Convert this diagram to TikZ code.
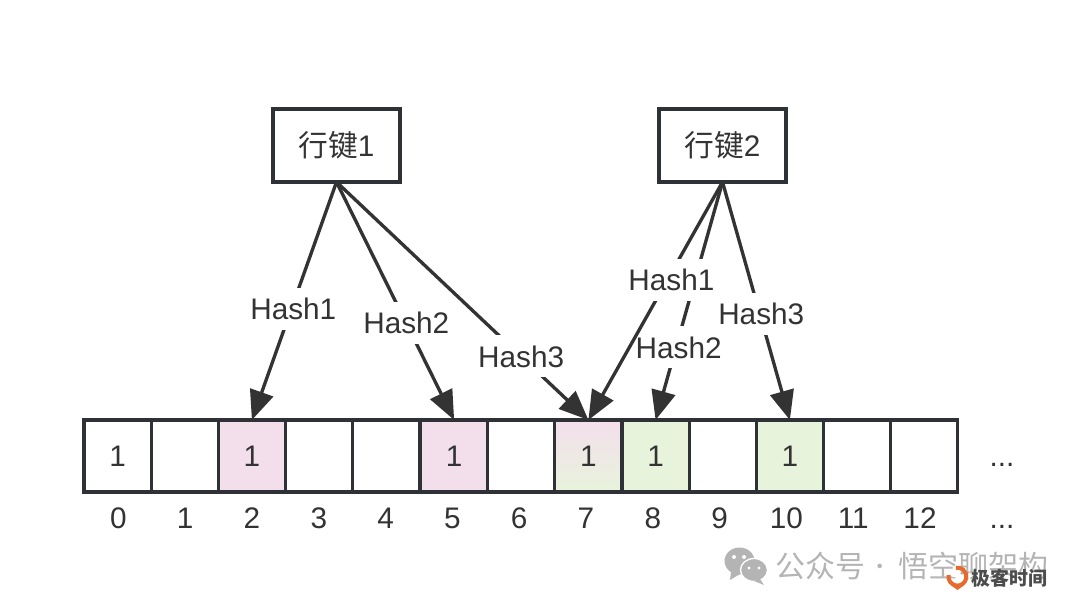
\documentclass[tikz,border=0pt]{standalone}
\usepackage{fontspec}
\setmainfont{Liberation Sans}
\newfontfamily\cjk{Noto Sans CJK SC}
\usetikzlibrary{
  positioning,
  arrows.meta
}
\definecolor{inkDark}{HTML}{333333}
\definecolor{edgeDark}{HTML}{2E3236}
\definecolor{pinkFill}{HTML}{F3DFEC}
\definecolor{greenFill}{HTML}{E8F3DC}
\definecolor{markGray}{HTML}{B4B4B4}
\definecolor{logoOrange}{HTML}{E8692C}

\begin{document}
\begin{tikzpicture}[
    x=0.75pt,y=-0.75pt,
    font=\fontsize{22.3pt}{26pt}\selectfont,>={Triangle[length=22pt,width=18pt]},
    text=inkDark,
    cell/.style={
      draw=edgeDark,
      line width=2.4pt,
      outer sep=0pt,
      minimum width=50.36pt,
      minimum height=54pt
    },
    rowkey/.style={
      draw=edgeDark,
      line width=2.4pt,
      outer sep=0pt,
      minimum width=95.25pt,
      minimum height=54.75pt
    },
    idx/.style={
      anchor=base,
      inner sep=0pt
    },
    hash/.style={
      fill=white,
      inner xsep=0pt,
      inner ysep=0pt,
      minimum height=31.5pt
    },
    link/.style={
      draw=inkDark,
      line width=2.5pt,
      ->
    },
    wmark/.style={
      text=markGray,
      font=\fontsize{22.5pt}{26pt}\selectfont\cjk,
      inner sep=0pt
    }
  ]
  \useasboundingbox (0,0) rectangle (1080,609);

  % Row keys
  \node[rowkey] (key1) at (336.5,145.5) {{\cjk 行键}1};
  \node[rowkey, right=194.25pt of key1] (key2) {{\cjk 行键}2};

  % Bit array
  \node[cell] (c0) at (117.6,456) {1};
  \node[cell, right=0pt of c0] (c1) {};
  \node[cell, right=0pt of c1, fill=pinkFill] (c2) {1};
  \node[cell, right=0pt of c2] (c3) {};
  \node[cell, right=0pt of c3] (c4) {};
  \node[cell, right=0pt of c4, fill=pinkFill, xshift=0.6pt] (c5) {1};
  \node[cell, right=0pt of c5] (c6) {};
  \node[cell, right=0pt of c6, top color=pinkFill, bottom color=greenFill] (c7) {1};
  \node[cell, right=0pt of c7, fill=greenFill] (c8) {1};
  \node[cell, right=0pt of c8] (c9) {};
  \node[cell, right=0pt of c9, fill=greenFill] (c10) {1};
  \node[cell, right=0pt of c10] (c11) {};
  \node[cell, right=0pt of c11] (c12) {};
  \node[idx] (dotsTop) at (1002,466) {...};

  % Indexes
  \foreach \i in {0,...,12}
    \node[idx] (n\i) at (118.4+\i*66.8,528) {\i};
  \node[idx] (dotsBottom) at (1002,528) {...};

  % Hashes of key 1
  \draw[link] (key1.south) -- node[hash, pos=.534, xshift=1.5pt] (h11) {Hash1} (c2.north);
  \draw[link] (key1.south) -- node[hash, pos=.593] (h12) {Hash2} (c5.north);
  \draw[link] (key1.south) -- node[hash, pos=.733] (h13) {Hash3} (c7.north);

  % Hashes of key 2
  \draw[link] (key2.south) -- node[hash, pos=.555, xshift=1pt] (h23) {Hash3} (c10.north);
  \draw[link] (key2.south) -- node[hash, pos=.695, xshift=2pt] (h22) {Hash2} (c8.north);
  \draw[link] (key2.south) -- node[hash, pos=.411, xshift=3pt] (h21) {Hash1} (c7.north);

  % Watermark
  \fill[markGray] (739.5,561) ellipse (15 and 13.5);
  \fill[markGray] (731,572) -- (730,580) -- (740,574) -- cycle;
  \fill[markGray, draw=white, line width=1pt] (754,570) ellipse (13.5 and 11.5);
  \fill[markGray] (760,579) -- (764,585) -- (754,581) -- cycle;
  \fill[white] (734,557) circle (2) (744,557) circle (2) (749,568) circle (1.6) (759,568) circle (1.6);
  \node[wmark] (wm1) at (820,566) {公众号};
  \node[wmark, yshift=-2.5pt, font=\fontsize{16pt}{18pt}\selectfont\cjk] (wmdot) at (880,566) {·};
  \node[wmark] (wm2) at (973,566) {悟空聊架构};
  \draw[logoOrange, line width=3pt] (948.5,575) arc (190:-100:9);
  \fill[logoOrange] (952,586) -- (963,586) -- (957.5,590) -- cycle;
  \fill[white] (957.5,570) -- (963,577) -- (959.5,577) -- (959.5,583) -- (955.5,583) -- (955.5,577) -- (952,577) -- cycle;
  \node[inner sep=0pt, font=\fontsize{14.2pt}{16pt}\selectfont\cjk\bfseries, text=black!70] (wm3) at (1009.5,578) {极客时间};
\end{tikzpicture}
\end{document}
